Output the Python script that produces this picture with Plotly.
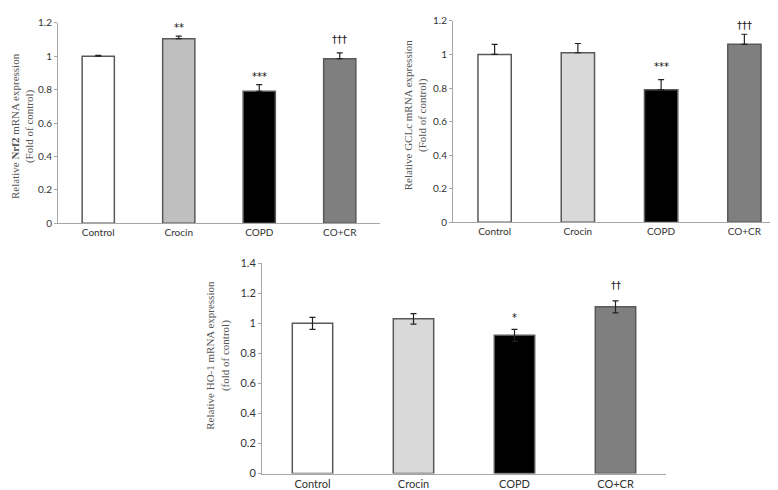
import plotly.graph_objects as go

categories = ["Control", "Crocin", "COPD", "CO+CR"]

nrf2_values = [1.0, 1.105, 0.79, 0.985]
nrf2_errors = [0.005, 0.015, 0.04, 0.035]
nrf2_marks = ["", "**", "***", "†††"]
nrf2_mark_y = [None, 1.17, 0.88, 1.10]

gclc_values = [1.0, 1.01, 0.79, 1.06]
gclc_errors = [0.06, 0.055, 0.06, 0.06]
gclc_marks = ["", "", "***", "†††"]
gclc_mark_y = [None, None, 0.93, 1.17]

ho1_values = [1.0, 1.03, 0.92, 1.11]
ho1_errors = [0.04, 0.035, 0.04, 0.04]
ho1_marks = ["", "", "*", "††"]
ho1_mark_y = [None, None, 1.04, 1.25]

y_ticks_12 = [0, 0.2, 0.4, 0.6, 0.8, 1, 1.2]
y_ticks_14 = [0, 0.2, 0.4, 0.6, 0.8, 1, 1.2, 1.4]

colors_1 = ["#ffffff", "#bfbfbf", "#000000", "#7f7f7f"]
colors_2 = ["#ffffff", "#d9d9d9", "#000000", "#7f7f7f"]
colors_3 = ["#ffffff", "#d9d9d9", "#000000", "#7f7f7f"]

W, H = 778, 490
fig = go.Figure()

panels = [
    dict(vals=nrf2_values, errs=nrf2_errors, marks=nrf2_marks, marky=nrf2_mark_y, both=False,
         colors=colors_1, xa="x", ya="y", ticks=y_ticks_12, rng=[0, 1.2],
         xdom=[50 / W, 372 / W], ydom=[1 - 214 / H, 1 - 8 / H],
         title="Relative <b>Nrf2</b> mRNA expression<br>(Fold of control)", tx=15, ty=114, fs=11, lblsize=10),
    dict(vals=gclc_values, errs=gclc_errors, marks=gclc_marks, marky=gclc_mark_y, both=False,
         colors=colors_2, xa="x2", ya="y2", ticks=y_ticks_12, rng=[0, 1.2],
         xdom=[445 / W, 778 / W], ydom=[1 - 213 / H, 1 - 6 / H],
         title="Relative GCLc mRNA expression<br>(Fold of control)", tx=407, ty=103, fs=11, lblsize=10),
    dict(vals=ho1_values, errs=ho1_errors, marks=ho1_marks, marky=ho1_mark_y, both=True,
         colors=colors_3, xa="x3", ya="y3", ticks=y_ticks_14, rng=[0, 1.4],
         xdom=[254 / W, 658 / W], ydom=[1 - 471 / H, 1 - 255 / H],
         title="Relative HO-1 mRNA expression<br>(fold of control)", tx=210, ty=350, fs=11, lblsize=11),
]

layout = dict(
    width=W, height=H, margin=dict(l=0, r=0, t=0, b=0),
    paper_bgcolor="white", plot_bgcolor="white", showlegend=False,
    annotations=[],
)

for i, p in enumerate(panels):
    err = dict(type="data", array=p["errs"], visible=True, color="#222222",
               thickness=1.2, width=3)
    if not p["both"]:
        err["symmetric"] = False
        err["arrayminus"] = [0] * len(p["errs"])
    fig.add_trace(go.Bar(
        x=categories, y=p["vals"], xaxis=p["xa"], yaxis=p["ya"], width=0.4,
        marker=dict(color=p["colors"], line=dict(color="#595959", width=1.5)),
        error_y=err,
    ))
    suffix = "" if i == 0 else str(i + 1)
    layout["xaxis" + suffix] = dict(
        domain=p["xdom"], anchor=p["ya"], showline=True, linecolor="#a6a6a6", linewidth=1,
        ticks="", showgrid=False, zeroline=False,
        tickfont=dict(family="Lato, Open Sans, sans-serif", size=p["lblsize"], color="#333333"),
    )
    layout["yaxis" + suffix] = dict(
        domain=p["ydom"], anchor=p["xa"], range=p["rng"], tickvals=p["ticks"],
        ticktext=[f"{t:g}" for t in p["ticks"]],
        showline=True, linecolor="#a6a6a6", linewidth=1, ticks="outside", ticklen=3,
        tickcolor="#a6a6a6", showgrid=False, zeroline=False,
        tickfont=dict(family="Lato, Open Sans, sans-serif", size=p["lblsize"], color="#333333"),
    )
    for c, m, my in zip(categories, p["marks"], p["marky"]):
        if m:
            layout["annotations"].append(dict(
                x=c, y=my, xref=p["xa"], yref=p["ya"], text=m, showarrow=False,
                font=dict(family="DejaVu Sans, sans-serif", size=10, color="#111111"),
            ))
    layout["annotations"].append(dict(
        x=p["tx"] / W, y=1 - p["ty"] / H, xref="paper", yref="paper", text=p["title"],
        textangle=-90, showarrow=False, align="center", xanchor="center", yanchor="middle",
        font=dict(family="Liberation Serif, Times New Roman, serif", size=p["fs"], color="#555555"),
    ))

fig.update_layout(**layout)
fig.write_html("out.html")
